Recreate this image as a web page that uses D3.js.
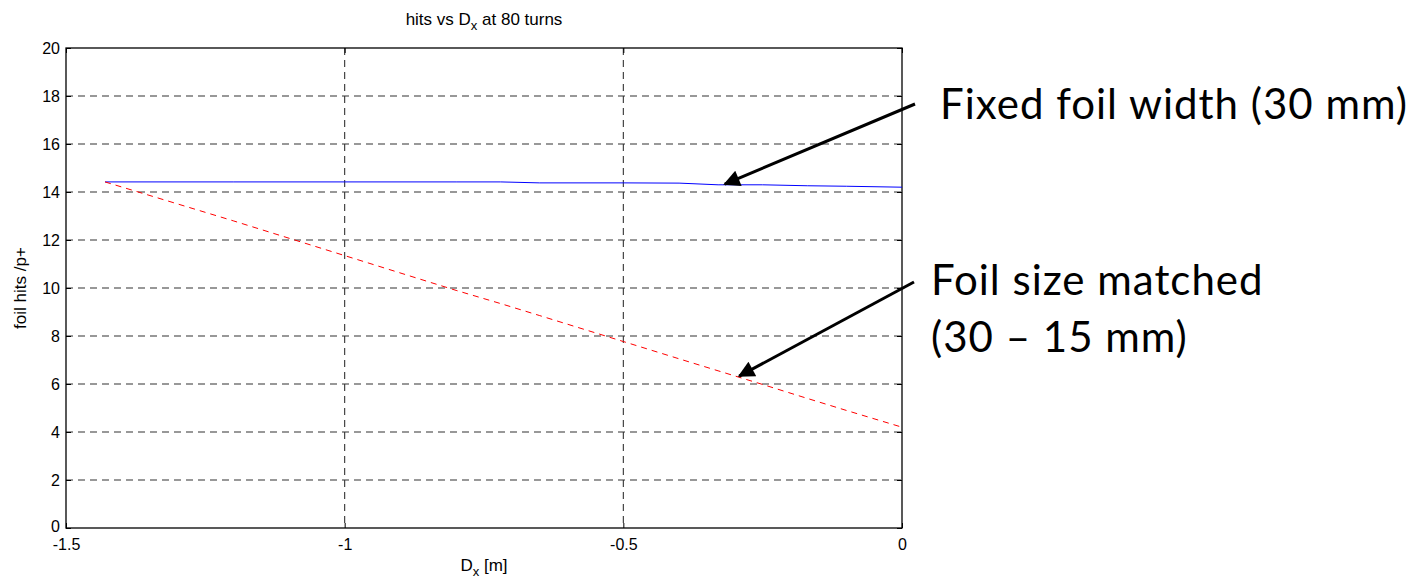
<!DOCTYPE html>
<html>
<head>
<meta charset="utf-8">
<script src="https://cdn.jsdelivr.net/npm/d3@7"></script>
<style>
  html, body { margin: 0; padding: 0; background: #fff; }
  svg { display: block; }
  .tick-label { font-family: "Liberation Sans", Arial, sans-serif; font-size: 16px; fill: #000; }
  .note { font-family: Lato, "Open Sans", sans-serif; font-size: 42px; letter-spacing: 1px; fill: #000; }
</style>
</head>
<body>
<svg id="chart" width="1423" height="581"></svg>
<script>
// Horizontal offset D_x [m] at which foil hits were evaluated
const dx = [-1.43, -1.2, -1.0, -0.8, -0.72, -0.65, -0.5, -0.4, -0.33, -0.25, -0.17, -0.1, 0];
// Foil hits per proton, fixed 30 mm foil width
const hitsFixed = [14.42, 14.42, 14.42, 14.42, 14.42, 14.38, 14.38, 14.37, 14.30, 14.30, 14.26, 14.24, 14.20];
// Foil hits per proton, foil size matched (30 – 15 mm)
const hitsMatched = [14.42, 12.8, 11.35, 9.9, 9.35, 8.85, 7.77, 7.05, 6.55, 5.98, 5.4, 4.9, 4.2];

const xTicks = [-1.5, -1, -0.5, 0];
const xTickLabels = ["-1.5", "-1", "-0.5", "0"];
const yTicks = [0, 2, 4, 6, 8, 10, 12, 14, 16, 18, 20];

// Annotations: label lines and the point each arrow targets
const notes = [
  { lines: ["Fixed foil width (30 mm)"], tip: [-0.318, 14.33], from: [915, 104], text: [940, 119] },
  { lines: ["Foil size matched", "(30 \u2013 15 mm)"], tip: [-0.292, 6.33], from: [914, 282], text: [931, 295] }
];

const svg = d3.select("#chart");
const m = { left: 66, top: 48, right: 902, bottom: 528 };

const x = d3.scaleLinear().domain([-1.5, 0]).range([m.left, m.right]);
const y = d3.scaleLinear().domain([0, 20]).range([m.bottom, m.top]);

svg.append("rect").attr("width", 1423).attr("height", 581).attr("fill", "#fff");

// Grid lines
const grid = svg.append("g");
grid.selectAll("line.gy").data(yTicks.filter(v => v > 0 && v < 20)).join("line")
  .attr("x1", m.left).attr("x2", m.right)
  .attr("y1", d => y(d)).attr("y2", d => y(d))
  .attr("stroke", "#333").attr("stroke-width", 1.1).attr("stroke-dasharray", "7,5");
grid.selectAll("line.gx").data(xTicks.filter(v => v > -1.5 && v < 0)).join("line")
  .attr("y1", m.top).attr("y2", m.bottom)
  .attr("x1", d => x(d)).attr("x2", d => x(d))
  .attr("stroke", "#333").attr("stroke-width", 1.1).attr("stroke-dasharray", "7,5");

// Axes (ticks pointing inward)
const axL = svg.append("g").attr("transform", `translate(${m.left},0)`)
  .call(d3.axisLeft(y).tickValues(yTicks).tickSize(-5).tickPadding(6));
const axR = svg.append("g").attr("transform", `translate(${m.right},0)`)
  .call(d3.axisRight(y).tickValues(yTicks).tickSize(-5).tickFormat(""));
const axB = svg.append("g").attr("transform", `translate(0,${m.bottom})`)
  .call(d3.axisBottom(x).tickValues(xTicks).tickSize(-5).tickPadding(12)
    .tickFormat((d, i) => xTickLabels[i]));
const axT = svg.append("g").attr("transform", `translate(0,${m.top})`)
  .call(d3.axisTop(x).tickValues(xTicks).tickSize(-5).tickFormat(""));
[axL, axR, axB, axT].forEach(a => {
  a.selectAll(".domain").remove();
  a.selectAll(".tick line").attr("stroke", "#000");
  a.selectAll("text").attr("class", "tick-label").attr("fill", "#000");
});
axB.selectAll("text").attr("dy", "0.6em");
// keep the bottom-left "0" clear of the first x label
axL.selectAll(".tick").filter(d => d === 0).select("text").attr("dy", "0.2em");

// Plot frame
svg.append("rect")
  .attr("x", m.left).attr("y", m.top)
  .attr("width", m.right - m.left).attr("height", m.bottom - m.top)
  .attr("fill", "none").attr("stroke", "#000").attr("stroke-width", 1.3);

// Data lines
const line = vals => d3.line().x((d, i) => x(dx[i])).y(d => y(d))(vals);
svg.append("path").attr("d", line(hitsFixed))
  .attr("fill", "none").attr("stroke", "#0000ff").attr("stroke-width", 1);
svg.append("path").attr("d", line(hitsMatched))
  .attr("fill", "none").attr("stroke", "#ff0000").attr("stroke-width", 1)
  .attr("stroke-dasharray", "6,5");

// Title and axis labels
const title = svg.append("text").attr("class", "tick-label")
  .attr("x", (m.left + m.right) / 2).attr("y", 25).attr("text-anchor", "middle")
  .style("font-size", "17px");
title.append("tspan").text("hits vs D");
title.append("tspan").attr("dy", 5).style("font-size", "13px").text("x");
title.append("tspan").attr("dy", -5).text(" at 80 turns");

const xl = svg.append("text").attr("class", "tick-label")
  .attr("x", (m.left + m.right) / 2).attr("y", 571).attr("text-anchor", "middle")
  .style("font-size", "17px");
xl.append("tspan").text("D");
xl.append("tspan").attr("dy", 5).style("font-size", "13px").text("x");
xl.append("tspan").attr("dy", -5).text(" [m]");

svg.append("text").attr("class", "tick-label")
  .attr("transform", `translate(26,${(m.top + m.bottom) / 2}) rotate(-90)`)
  .attr("text-anchor", "middle").style("font-size", "17px")
  .text("foil hits /p+");

// Annotation arrows and labels
svg.append("defs").append("marker")
  .attr("id", "head").attr("viewBox", "0 0 10 10")
  .attr("refX", 9).attr("refY", 5)
  .attr("markerWidth", 7).attr("markerHeight", 5.5)
  .attr("markerUnits", "strokeWidth").attr("orient", "auto")
  .append("path").attr("d", "M0,0 L10,5 L0,10 Z").attr("fill", "#000");

notes.forEach(n => {
  svg.append("line")
    .attr("x1", n.from[0]).attr("y1", n.from[1])
    .attr("x2", x(n.tip[0])).attr("y2", y(n.tip[1]))
    .attr("stroke", "#000").attr("stroke-width", 3)
    .attr("marker-end", "url(#head)");
  const t = svg.append("text").attr("class", "note")
    .attr("x", n.text[0]).attr("y", n.text[1]);
  n.lines.forEach((s, i) => t.append("tspan")
    .attr("x", n.text[0]).attr("dy", i === 0 ? 0 : 57).text(s));
});
</script>
</body>
</html>
